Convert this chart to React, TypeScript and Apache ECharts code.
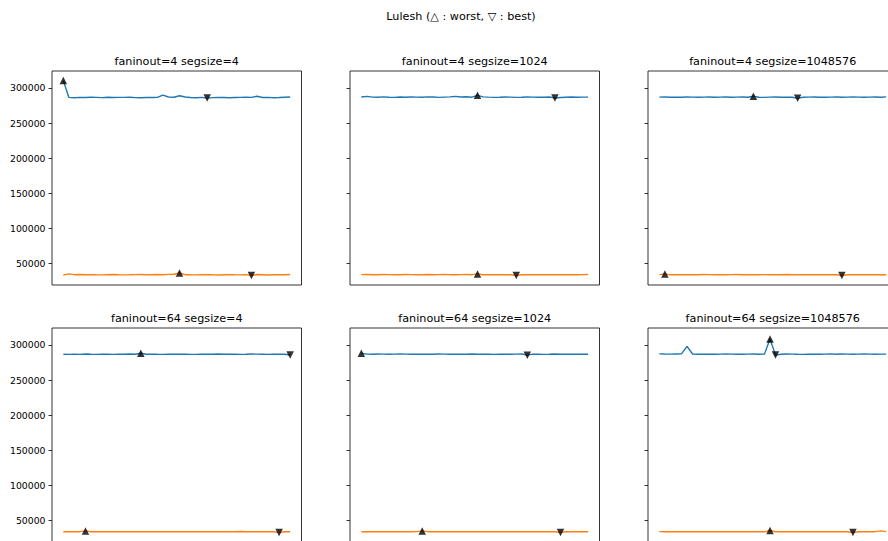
import React, { useEffect, useRef } from "react";
import * as echarts from "echarts";

// ---- data ----
const suptitle = "Lulesh (△ : worst, ▽ : best)";
const panelTitles = [
  "faninout=4 segsize=4",
  "faninout=4 segsize=1024",
  "faninout=4 segsize=1048576",
  "faninout=64 segsize=4",
  "faninout=64 segsize=1024",
  "faninout=64 segsize=1048576",
];
const yTicks = [50000, 100000, 150000, 200000, 250000, 300000];

const f4s4Upper = [310500, 286600, 286200, 286700, 286500, 286800, 286600, 286300, 286900, 286500, 286700, 286600, 286800, 286300, 286200, 286500, 286400, 286600, 289800, 287200, 286900, 288900, 287100, 286500, 286200, 286600, 285600, 286300, 286700, 286400, 286100, 286500, 286700, 286800, 286600, 288300, 286500, 286700, 286200, 286400, 286800, 287100];
const f4s4Lower = [33800, 35400, 34200, 34500, 34100, 34300, 34000, 33900, 34200, 34400, 34100, 33900, 34000, 34300, 34500, 34200, 34000, 34400, 34100, 34600, 34800, 36600, 34200, 34000, 33900, 34100, 34300, 34000, 33800, 34100, 34200, 34000, 33900, 34300, 33000, 34400, 34100, 33800, 34000, 34200, 34100, 34500];

const f4s1024Upper = [287200, 288100, 287000, 286900, 287300, 286800, 286700, 287100, 286900, 287200, 287000, 286800, 287300, 287100, 286600, 287000, 287400, 288000, 287100, 287500, 286900, 289600, 287400, 287000, 286700, 286800, 287100, 287000, 286700, 286900, 287200, 287000, 286800, 286900, 287100, 285800, 286500, 286900, 287100, 286800, 287000, 287000];
const f4s1024Lower = [34300, 34500, 34200, 34100, 34400, 34300, 34000, 34200, 34500, 34300, 34100, 34200, 34400, 34000, 34300, 34600, 34200, 34100, 34300, 34500, 34200, 35300, 34100, 34000, 34200, 34300, 34100, 34000, 33000, 34100, 34200, 34000, 34100, 34300, 34200, 34000, 34100, 34200, 34000, 34100, 34300, 34400];

const f4s1048576Upper = [287000, 287100, 286800, 287000, 286900, 287100, 287000, 286800, 287000, 287100, 286900, 287000, 287200, 286900, 287000, 287100, 286800, 288200, 286900, 286700, 287000, 287200, 286800, 287000, 286900, 285300, 286800, 287000, 287100, 286900, 286800, 287000, 287100, 286800, 287000, 287200, 287000, 286900, 287000, 287100, 286900, 287300];
const f4s1048576Lower = [34200, 35300, 34000, 34300, 34200, 34100, 34000, 34200, 34400, 34300, 34100, 34000, 34200, 34300, 34500, 34200, 34100, 34000, 34200, 34300, 34100, 34000, 34200, 34400, 34200, 34100, 34000, 34300, 34200, 34100, 34000, 34200, 34100, 33000, 34100, 34200, 34000, 34100, 34200, 34000, 34100, 34200];

const f64s4Upper = [286800, 286700, 287000, 286600, 287100, 286800, 286600, 287000, 286900, 286700, 287000, 286800, 287100, 286900, 288200, 286900, 287000, 286800, 286700, 287000, 286900, 286800, 287000, 286700, 286600, 286900, 287000, 286800, 287100, 286900, 286800, 287000, 286700, 286800, 287100, 287000, 286900, 286700, 286800, 286900, 286900, 285800];
const f64s4Lower = [34000, 34100, 34300, 34200, 35300, 34100, 34300, 34000, 34100, 34200, 34000, 34100, 34200, 34000, 34100, 34300, 34200, 34000, 34100, 34000, 34200, 34100, 34000, 34100, 34200, 34000, 34100, 34000, 34200, 34100, 34000, 34100, 34400, 34200, 34000, 34100, 34300, 34100, 34000, 33000, 34000, 34100];

const f64s1024Upper = [288200, 287000, 286900, 287100, 287000, 286800, 287000, 287200, 287000, 286800, 286900, 287000, 286800, 286900, 287100, 287000, 286900, 286800, 287000, 286900, 287100, 286800, 286900, 287000, 286700, 287000, 286800, 286900, 287000, 287100, 285500, 287000, 286900, 286700, 286800, 287100, 286900, 286800, 286900, 287000, 286900, 286900];
const f64s1024Lower = [34100, 34200, 34300, 34100, 34000, 34200, 34300, 34100, 34200, 34000, 34300, 35300, 34200, 34100, 34000, 34100, 34200, 34000, 34100, 34000, 34200, 34100, 34000, 34100, 34000, 34200, 34100, 34000, 34100, 34000, 34100, 34200, 34000, 34100, 34200, 34000, 33000, 34100, 34000, 34100, 34200, 34100];

const f64s1048576Upper = [287400, 287100, 287000, 287200, 287300, 298000, 287200, 286900, 286800, 287000, 286900, 287000, 287100, 287000, 286800, 286900, 287000, 287100, 286800, 287000, 308400, 285600, 286900, 287100, 287000, 286800, 286700, 286900, 287000, 286800, 287000, 287300, 286900, 287100, 287000, 286800, 287000, 287100, 287000, 286900, 287000, 287000];
const f64s1048576Lower = [34300, 34100, 34000, 34100, 34200, 34000, 34100, 34000, 34200, 34300, 34100, 34200, 34000, 34100, 34200, 34100, 34000, 34100, 34200, 34000, 35800, 34100, 34000, 34100, 34000, 34200, 34100, 34000, 34100, 34200, 34100, 34000, 34100, 34200, 34000, 33000, 34000, 34100, 34000, 34200, 35400, 34200];

const upperRuns = [f4s4Upper, f4s1024Upper, f4s1048576Upper, f64s4Upper, f64s1024Upper, f64s1048576Upper];
const lowerRuns = [f4s4Lower, f4s1024Lower, f4s1048576Lower, f64s4Lower, f64s1024Lower, f64s1048576Lower];

// ---- layout & style ----
const FONT = "DejaVu Sans";
const VIEW_W = 888;
const VIEW_H = 541;
// the figure runs a little past the visible window on the right and bottom
const FIG_W = 910;
const FIG_H = 560;
const COL_LEFT = [52, 350, 648];
const ROW_TOP = [71, 328];
const PANEL_W = 249.5;
const PANEL_H = 214;
const Y_MIN = 19500;
const Y_MAX = 324200;
const BLUE = "#1f77b4";
const ORANGE = "#ff7f0e";

const argMax = (a: number[]) => a.reduce((b, v, i) => (v > a[b] ? i : b), 0);
const argMin = (a: number[]) => a.reduce((b, v, i) => (v < a[b] ? i : b), 0);
const toPoints = (a: number[]) => a.map((v, i) => [i, v]);

function buildOption() {
  const grid: any[] = [];
  const xAxis: any[] = [];
  const yAxis: any[] = [];
  const series: any[] = [];
  const graphic: any[] = [];

  graphic.push({
    type: "text",
    x: 461,
    y: 16,
    style: {
      text: suptitle,
      fontFamily: FONT,
      fontSize: 11.2,
      fill: "#000",
      align: "center",
      verticalAlign: "middle",
    },
  });

  panelTitles.forEach((title, i) => {
    const col = i % 3;
    const row = Math.floor(i / 3);
    const left = COL_LEFT[col];
    const top = ROW_TOP[row];
    const n = upperRuns[i].length;
    const pad = (n - 1) * 0.05;

    grid.push({
      left,
      top,
      width: PANEL_W,
      height: PANEL_H,
      show: true,
      borderColor: "#000",
      borderWidth: 0.8,
      backgroundColor: "transparent",
    });
    xAxis.push({
      type: "value",
      gridIndex: i,
      min: -pad,
      max: n - 1 + pad,
      show: false,
    });
    yAxis.push({
      type: "value",
      gridIndex: i,
      position: "left",
      min: Y_MIN,
      max: Y_MAX,
      axisLine: { show: false, onZero: false },
      splitLine: { show: false },
      axisTick: {
        show: true,
        length: 3.5,
        lineStyle: { color: "#000", width: 0.8 },
        customValues: yTicks,
      },
      axisLabel: {
        show: col === 0,
        customValues: yTicks,
        formatter: (v: number) => String(v),
        fontFamily: FONT,
        fontSize: 9.3,
        color: "#000",
        margin: 6.5,
      },
    });

    graphic.push({
      type: "text",
      x: left + PANEL_W / 2,
      y: top - 10,
      style: {
        text: title,
        fontFamily: FONT,
        fontSize: 11.2,
        fill: "#000",
        align: "center",
        verticalAlign: "middle",
      },
    });

    const up = upperRuns[i];
    const lo = lowerRuns[i];
    [
      [up, BLUE],
      [lo, ORANGE],
    ].forEach(([arr, color]) => {
      series.push({
        type: "line",
        xAxisIndex: i,
        yAxisIndex: i,
        data: toPoints(arr as number[]),
        showSymbol: false,
        lineStyle: { color: color as string, width: 1.4 },
        itemStyle: { color: color as string },
        emphasis: { disabled: true },
        silent: true,
        z: 2,
      });
    });

    // worst (maximum) markers
    series.push({
      type: "scatter",
      xAxisIndex: i,
      yAxisIndex: i,
      data: [up, lo].map((a) => [argMax(a), a[argMax(a)]]),
      symbol: "triangle",
      symbolSize: 7.5,
      itemStyle: { color: "#000" },
      emphasis: { disabled: true },
      silent: true,
      z: 3,
    });
    // best (minimum) markers
    series.push({
      type: "scatter",
      xAxisIndex: i,
      yAxisIndex: i,
      data: [up, lo].map((a) => [argMin(a), a[argMin(a)]]),
      symbol: "triangle",
      symbolRotate: 180,
      symbolSize: 7.5,
      itemStyle: { color: "#000" },
      emphasis: { disabled: true },
      silent: true,
      z: 3,
    });
  });

  return {
    animation: false,
    backgroundColor: "#fff",
    textStyle: { fontFamily: FONT },
    grid,
    xAxis,
    yAxis,
    series,
    graphic,
  };
}

export default function App() {
  const ref = useRef<HTMLDivElement>(null);

  useEffect(() => {
    if (!ref.current) return;
    const chart = echarts.init(ref.current, null, { renderer: "svg" });
    chart.setOption(buildOption());
    return () => chart.dispose();
  }, []);

  return (
    <div
      style={{
        position: "absolute",
        left: 0,
        top: 0,
        width: VIEW_W,
        height: VIEW_H,
        overflow: "hidden",
        background: "#fff",
      }}
    >
      <div ref={ref} style={{ width: FIG_W, height: FIG_H }} />
    </div>
  );
}
